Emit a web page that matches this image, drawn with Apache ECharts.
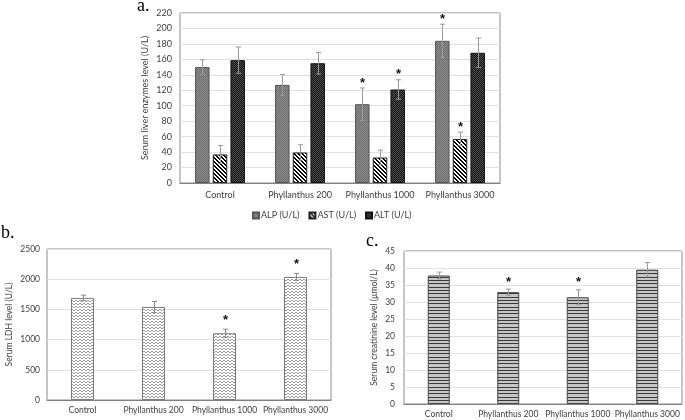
<!DOCTYPE html>
<html><head><meta charset="utf-8">
<script src="https://cdn.jsdelivr.net/npm/echarts@6/dist/echarts.min.js"></script>
<style>html,body{margin:0;padding:0;background:#fff}#c{width:685px;height:420px}</style>
</head><body><div id="c"></div>
<script>
const categories = ['Control', 'Phyllanthus 200', 'Phyllanthus 1000', 'Phyllanthus 3000'];
// panel a
const alp = [150, 127, 102, 184];
const alpErr = [9.5, 13.5, 21, 21.5];
const alpSig = [0, 0, 1, 1];
const ast = [37, 39.5, 33, 57];
const astErr = [11.5, 10, 9.5, 8.7];
const astSig = [0, 0, 0, 1];
const alt = [159, 155, 121, 168.5];
const altErr = [17, 14, 12.6, 19];
const altSig = [0, 0, 1, 0];
// panel b
const ldh = [1690, 1540, 1105, 2038];
const ldhErr = [45, 90, 67, 57];
const ldhSig = [0, 0, 1, 1];
// panel c
const creat = [37.8, 32.9, 31.4, 39.5];
const creatErr = [1.0, 0.9, 2.2, 2.1];
const creatSig = [0, 1, 1, 0];

function pat(w, h, fn) {
  const c = document.createElement('canvas');
  c.width = w; c.height = h;
  const ctx = c.getContext('2d');
  fn(ctx);
  return { image: c, repeat: 'repeat' };
}
const alpPat = pat(2, 2, ctx => { ctx.fillStyle = '#8e8e8e'; ctx.fillRect(0,0,2,2); ctx.fillStyle = '#6c6c6c'; ctx.fillRect(0,0,1,1); ctx.fillRect(1,1,1,1); });
const astPat = pat(4, 4, ctx => { ctx.fillStyle = '#fff'; ctx.fillRect(0,0,4,4); ctx.fillStyle = '#000';
  for (let y = 0; y < 4; y++) for (let x = 0; x < 4; x++) { const d = ((x - y) % 4 + 4) % 4; if (d < 2) ctx.fillRect(x, y, 1, 1); } });
const altPat = pat(2, 2, ctx => { ctx.fillStyle = '#121212'; ctx.fillRect(0,0,2,2); ctx.fillStyle = '#505050'; ctx.fillRect(0,0,1,1); ctx.fillRect(1,1,1,1); });
const ldhPat = pat(4, 3, ctx => { ctx.fillStyle = '#fff'; ctx.fillRect(0,0,4,3); ctx.fillStyle = '#9a9a9a';
  const ys = [0, 1, 1, 0]; for (let x = 0; x < 4; x++) ctx.fillRect(x, ys[x], 1, 1); });
const crPat = pat(1, 10, ctx => { ctx.fillStyle = '#c6c6c6'; ctx.fillRect(0,0,1,10); ctx.fillStyle = '#3a3a3a';
  [0, 3, 7].forEach(y => ctx.fillRect(0, y, 1, 1)); });

const FONT = 'Lato, "Open Sans", sans-serif';
const LABEL = '#404040';

function errSeries(xi, yi, vals, errs, sigs, offset, color, capW, starGap) {
  return {
    type: 'custom', xAxisIndex: xi, yAxisIndex: yi, z: 5, silent: true,
    data: vals.map((v, i) => [i, v, errs[i], sigs[i]]),
    renderItem: function (params, api) {
      const i = api.value(0), v = api.value(1), e = api.value(2), s = api.value(3);
      const t = api.coord([i, v + e]);
      const b = api.coord([i, v - e]);
      const x = Math.round(t[0] + offset) + 0.5;
      const st = { stroke: color, lineWidth: 1 };
      const ch = [
        { type: 'line', shape: { x1: x, y1: t[1], x2: x, y2: b[1] }, style: st },
        { type: 'line', shape: { x1: x - capW, y1: t[1], x2: x + capW, y2: t[1] }, style: st },
        { type: 'line', shape: { x1: x - capW, y1: b[1], x2: x + capW, y2: b[1] }, style: st }
      ];
      if (s) ch.push({ type: 'text', style: { text: '*', x: x, y: t[1] - starGap, align: 'center', verticalAlign: 'middle',
        font: 'bold 13px "Liberation Sans", sans-serif', fill: '#111' } });
      return { type: 'group', children: ch };
    }
  };
}

function xAx(gi, size, margin) {
  return { type: 'category', gridIndex: gi, data: categories,
    axisLine: { lineStyle: { color: '#808080', width: 1 } }, axisTick: { show: false },
    axisLabel: { color: LABEL, fontFamily: FONT, fontSize: size, margin: margin, interval: 0 } };
}
function yAx(gi, max, interval, name, nameGap, nameSize, labelSize, margin) {
  return { type: 'value', gridIndex: gi, min: 0, max: max, interval: interval,
    name: name, nameLocation: 'middle', nameGap: nameGap,
    nameTextStyle: { color: LABEL, fontFamily: FONT, fontSize: nameSize },
    axisLine: { show: false }, axisTick: { show: false },
    axisLabel: { color: LABEL, fontFamily: FONT, fontSize: labelSize, margin: margin, formatter: v => String(v) },
    splitLine: { lineStyle: { color: '#e2e2e2', width: 1 } } };
}

const chart = echarts.init(document.getElementById('c'), null, { renderer: 'canvas' });
const bw = 14.5, gapPx = 3.2, step = bw + gapPx;
chart.setOption({
  animation: false,
  backgroundColor: '#fff',
  grid: [
    { left: 180, top: 13, width: 320, height: 170, show: true, borderColor: '#8c8c8c', borderWidth: 1, containLabel: false },
    { left: 47, top: 249, width: 284, height: 151, show: true, borderColor: '#8c8c8c', borderWidth: 1, containLabel: false },
    { left: 404, top: 251, width: 278, height: 153, show: true, borderColor: '#8c8c8c', borderWidth: 1, containLabel: false }
  ],
  legend: {
    left: 247, top: 206, icon: 'rect', itemWidth: 6, itemHeight: 6, itemGap: 9,
    textStyle: { color: LABEL, fontFamily: FONT, fontSize: 9, padding: [0, 0, 0, -3] },
    data: ['ALP (U/L)', 'AST (U/L)', 'ALT (U/L)'], selectedMode: false
  },
  xAxis: [xAx(0, 9, 8), xAx(1, 8.5, 6), xAx(2, 8.5, 6)],
  yAxis: [
    yAx(0, 220, 20, 'Serum liver enzymes level (U/L)', 30, 9, 9, 8),
    yAx(1, 2500, 500, 'Serum LDH level (U/L)', 33, 8.5, 8.5, 7),
    yAx(2, 45, 5, 'Serum creatinine level (\u00b5mol/L)', 25, 8.5, 8.5, 9)
  ],
  graphic: [
    { type: 'text', left: 137, top: -3, style: { text: 'a.', font: '18px "Liberation Serif", serif', fill: '#000' } },
    { type: 'text', left: 1, top: 224, style: { text: 'b.', font: '18px "Liberation Serif", serif', fill: '#000' } },
    { type: 'text', left: 366, top: 232, style: { text: 'c.', font: '18px "Liberation Serif", serif', fill: '#000' } }
  ],
  series: [
    { name: 'ALP (U/L)', type: 'bar', xAxisIndex: 0, yAxisIndex: 0, data: alp, barWidth: bw, barGap: (gapPx / bw * 100) + '%',
      itemStyle: { color: alpPat, borderColor: '#555', borderWidth: 1 } },
    { name: 'AST (U/L)', type: 'bar', xAxisIndex: 0, yAxisIndex: 0, data: ast, barWidth: bw,
      itemStyle: { color: astPat, borderColor: '#222', borderWidth: 1 } },
    { name: 'ALT (U/L)', type: 'bar', xAxisIndex: 0, yAxisIndex: 0, data: alt, barWidth: bw,
      itemStyle: { color: altPat, borderColor: '#111', borderWidth: 1 } },
    errSeries(0, 0, alp, alpErr, alpSig, -step, '#9a9a9a', 2.5, 5),
    errSeries(0, 0, ast, astErr, astSig, 0, '#9a9a9a', 2.5, 5),
    errSeries(0, 0, alt, altErr, altSig, step, '#9a9a9a', 2.5, 5),
    { name: 'LDH', type: 'bar', xAxisIndex: 1, yAxisIndex: 1, data: ldh, barWidth: 23,
      itemStyle: { color: ldhPat, borderColor: '#7a7a7a', borderWidth: 1 } },
    errSeries(1, 1, ldh, ldhErr, ldhSig, 0, '#8a8a8a', 2.5, 9),
    { name: 'Creatinine', type: 'bar', xAxisIndex: 2, yAxisIndex: 2, data: creat, barWidth: 22,
      itemStyle: { color: crPat, borderColor: '#444', borderWidth: 1 } },
    errSeries(2, 2, creat, creatErr, creatSig, 0, '#9a9a9a', 2.5, 7)
  ]
});
</script></body></html>
